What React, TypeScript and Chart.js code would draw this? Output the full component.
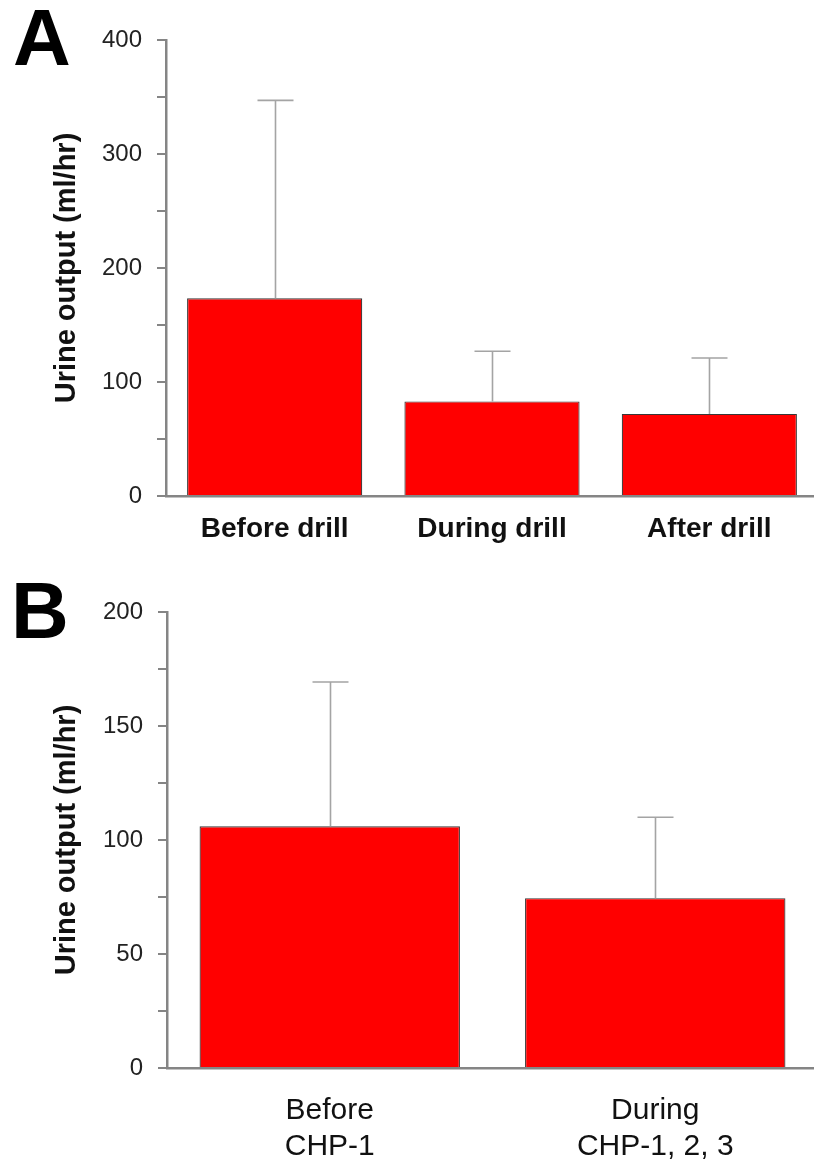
import React, { useEffect, useRef } from "react";
import { Chart, registerables } from "chart.js";

Chart.register(...registerables);

// ---- Data ----
const CATEGORIES_A = ["Before drill", "During drill", "After drill"];
const MEANS_A = [173.5, 83, 72];
const SD_A = [173.5, 44, 49];
const TICK_LABELS_A = [0, 100, 200, 300, 400];

const CATEGORIES_B = [["Before", "CHP-1"], ["During", "CHP-1, 2, 3"]];
const MEANS_B = [106, 74.5];
const SD_B = [63.3, 35.5];
const TICK_LABELS_B = [0, 50, 100, 150, 200];

const Y_TITLE = "Urine output (ml/hr)";
const FONT = "'Liberation Sans', Arial, sans-serif";

const errorBarPlugin = {
  id: "errorBars",
  afterDatasetsDraw(chart: any, _args: any, opts: any) {
    const ctx = chart.ctx;
    const meta = chart.getDatasetMeta(0);
    const ys = chart.scales.y;
    const data = chart.data.datasets[0].data;
    ctx.save();
    ctx.strokeStyle = opts.color || "#a8a8a8";
    ctx.lineWidth = opts.width || 1.5;
    meta.data.forEach((bar: any, i: number) => {
      const v = data[i];
      const yb = ys.getPixelForValue(v);
      const yt = ys.getPixelForValue(v + opts.sd[i]);
      const x = Math.round(bar.x) + 0.5;
      ctx.beginPath();
      ctx.moveTo(x, yb);
      ctx.lineTo(x, yt);
      ctx.moveTo(x - opts.cap, yt);
      ctx.lineTo(x + opts.cap, yt);
      ctx.stroke();
    });
    ctx.restore();
  },
};

type PanelProps = {
  top: number;
  height: number;
  labels: any[];
  means: number[];
  sds: number[];
  tickLabels: number[];
  max: number;
  step: number;
  barPct: number;
  chartTop: number;
  chartBottom: number;
  yWidth: number;
  xFont: any;
  xPadding: number;
};

function Panel(p: PanelProps) {
  const ref = useRef<HTMLCanvasElement>(null);
  useEffect(() => {
    if (!ref.current) return;
    const chart = new Chart(ref.current, {
      type: "bar",
      data: {
        labels: p.labels,
        datasets: [
          {
            data: p.means,
            backgroundColor: "#ff0000",
            borderColor: "#383838",
            borderWidth: 1.2,
            barPercentage: p.barPct,
            categoryPercentage: 1,
          },
        ],
      },
      options: {
        responsive: false,
        animation: false,
        devicePixelRatio: 1,
        layout: { padding: { top: p.chartTop, left: 0, right: 2, bottom: 0 } },
        plugins: {
          legend: { display: false },
          tooltip: { enabled: false },
          errorBars: { sd: p.sds, cap: 18, color: "#a4a4a4", width: 1.6 },
        } as any,
        scales: {
          x: {
            offset: true,
            grid: { display: false },
            border: { display: true, color: "#858585", width: 2.5 },
            ticks: {
              color: "#111",
              font: p.xFont,
              padding: p.xPadding,
              maxRotation: 0,
              autoSkip: false,
            },
            afterFit: (s: any) => {
              s.height = p.height - p.chartBottom;
            },
          },
          y: {
            min: 0,
            max: p.max,
            grid: {
              display: true,
              drawOnChartArea: false,
              drawTicks: true,
              tickLength: 9,
              color: "#858585",
              lineWidth: 2,
            },
            border: { display: true, color: "#858585", width: 2.5 },
            ticks: {
              stepSize: p.step,
              color: "#222",
              font: { family: FONT, size: 24 },
              padding: 15,
              callback: (v: any) => (p.tickLabels.includes(Number(v)) ? String(v) : ""),
            },
            title: {
              display: true,
              text: Y_TITLE,
              color: "#111",
              font: { family: FONT, size: 29, weight: "bold" },
              padding: { top: 50, bottom: 0 },
            },
            afterFit: (s: any) => {
              s.width = p.yWidth;
            },
          },
        },
      },
      plugins: [errorBarPlugin as any],
    });
    return () => chart.destroy();
  }, []);
  return (
    <canvas
      ref={ref}
      width={820}
      height={p.height}
      style={{ position: "absolute", left: 0, top: p.top, width: 820, height: p.height }}
    />
  );
}

export default function App() {
  const letter: React.CSSProperties = {
    position: "absolute",
    fontFamily: FONT,
    fontWeight: "bold",
    fontSize: 80,
    lineHeight: 1,
    color: "#000",
  };
  return (
    <div
      style={{
        position: "absolute",
        left: 0,
        top: 0,
        width: 814,
        height: 1159,
        overflow: "hidden",
        background: "#fff",
      }}
    >
      <Panel
        top={0}
        height={560}
        labels={CATEGORIES_A}
        means={MEANS_A}
        sds={SD_A}
        tickLabels={TICK_LABELS_A}
        max={400}
        step={50}
        barPct={0.806}
        chartTop={40}
        chartBottom={496}
        yWidth={166}
        xFont={{ family: FONT, size: 28, weight: "bold" }}
        xPadding={8}
      />
      <Panel
        top={560}
        height={599}
        labels={CATEGORIES_B}
        means={MEANS_B}
        sds={SD_B}
        tickLabels={TICK_LABELS_B}
        max={200}
        step={25}
        barPct={0.8}
        chartTop={52}
        chartBottom={508}
        yWidth={167}
        xFont={{ family: FONT, size: 30, weight: "normal", lineHeight: 1.22 }}
        xPadding={16}
      />
      <div style={{ ...letter, left: 13, top: -2 }}>A</div>
      <div style={{ ...letter, left: 11, top: 571 }}>B</div>
    </div>
  );
}
